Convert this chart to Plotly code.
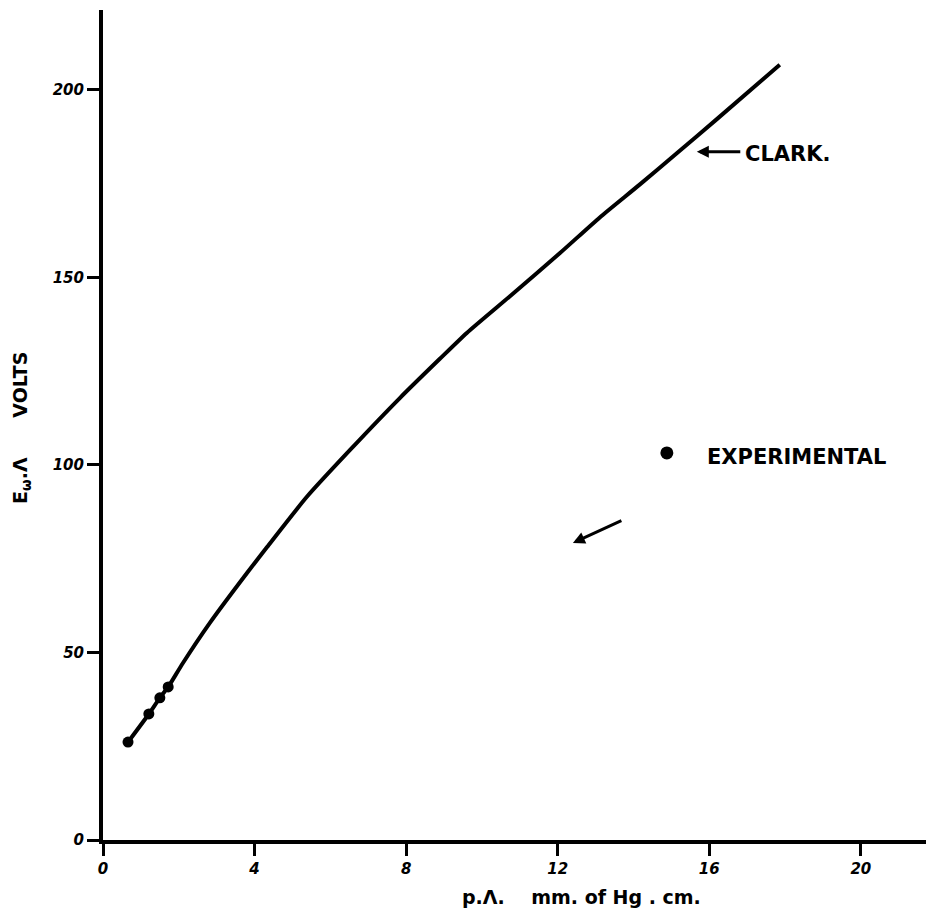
import plotly.graph_objects as go

# Clark's curve
clark_x = [0.66, 1.21, 1.50, 1.72, 2.11, 2.82, 3.80, 4.33, 5.38, 6.52, 7.84, 8.89,
           9.60, 10.74, 12.06, 13.11, 14.17, 15.15, 16.20, 17.86]
clark_y = [26.1, 33.6, 37.9, 40.8, 47.2, 57.9, 71.2, 78.1, 91.5, 104.0, 117.9, 128.3,
           135.2, 145.0, 156.5, 166.0, 174.8, 183.2, 192.2, 206.7]

# Experimental points
exp_x = [0.66, 1.21, 1.50, 1.72]
exp_y = [26.1, 33.6, 37.9, 40.8]

# Key symbol for "EXPERIMENTAL"
key_x = [14.88]
key_y = [103.2]

x_ticks = [0, 4, 8, 12, 16, 20]
y_ticks = [0, 50, 100, 150, 200]

FONT = "DejaVu Sans"

fig = go.Figure()
fig.add_trace(go.Scatter(x=clark_x, y=clark_y, mode="lines",
                         line=dict(color="black", width=4, shape="spline", smoothing=0.6),
                         showlegend=False, hoverinfo="skip"))
fig.add_trace(go.Scatter(x=exp_x, y=exp_y, mode="markers",
                         marker=dict(color="black", size=11, symbol="circle"),
                         showlegend=False))
fig.add_trace(go.Scatter(x=key_x, y=key_y, mode="markers",
                         marker=dict(color="black", size=13, symbol="circle"),
                         showlegend=False, hoverinfo="skip"))

tickfont = dict(family=FONT, size=15, color="black", weight="bold", style="italic")

axis_common = dict(showline=True, linewidth=4, linecolor="black", mirror=False,
                   ticks="outside", ticklen=12, tickwidth=3, tickcolor="black",
                   showgrid=False, zeroline=False, tickfont=tickfont, automargin=False)

fig.update_xaxes(range=[0, 21.93], tickvals=x_ticks, ticktext=[str(v) for v in x_ticks],
                 **axis_common)
fig.update_yaxes(range=[0, 221.3], tickvals=y_ticks, ticktext=[str(v) for v in y_ticks],
                 **axis_common)

labfont = dict(family=FONT, size=21, color="black", weight="bold")
annotations = [
    # CLARK label + arrow
    dict(x=16.90, y=183.0, xref="x", yref="y", text="CLARK.", showarrow=False,
         xanchor="left", yanchor="middle", font=labfont),
    dict(x=15.67, y=183.5, xref="x", yref="y", text="", showarrow=True,
         ax=45, ay=0, arrowhead=2, arrowsize=0.8, arrowwidth=3, arrowcolor="black"),
    # EXPERIMENTAL label
    dict(x=15.88, y=102.2, xref="x", yref="y", text="EXPERIMENTAL", showarrow=False,
         xanchor="left", yanchor="middle", font=labfont),
    dict(x=12.40, y=79.2, xref="x", yref="y", text="", showarrow=True,
         ax=50, ay=-23, arrowhead=2, arrowsize=0.8, arrowwidth=3, arrowcolor="black"),
    # axis titles
    dict(x=0.576, y=-0.069, xref="paper", yref="paper",
         text="p.Λ.    mm. of Hg . cm.", showarrow=False,
         xanchor="center", yanchor="middle",
         font=dict(family=FONT, size=19, color="black", weight="bold")),
    dict(x=-0.098, y=0.496, xref="paper", yref="paper",
         text="E<sub>ω</sub>.Λ      VOLTS", showarrow=False, textangle=-90,
         xanchor="center", yanchor="middle",
         font=dict(family=FONT, size=19, color="black", weight="bold")),
]

# The page body has an 8px margin, so the figure is sized/offset to compensate.
fig.update_layout(width=926, height=906,
                  margin=dict(l=95, r=0, t=2, b=74),
                  paper_bgcolor="white", plot_bgcolor="white",
                  annotations=annotations, showlegend=False)

fig.write_html("out.html")
